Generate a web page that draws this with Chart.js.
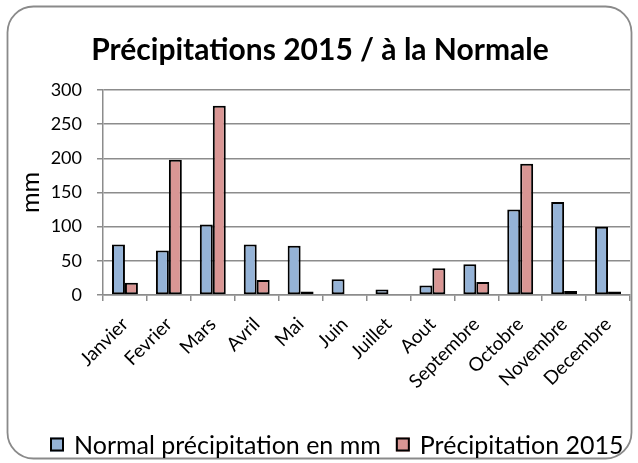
<!DOCTYPE html>
<html>
<head>
<meta charset="utf-8">
<script src="https://cdn.jsdelivr.net/npm/chart.js@4"></script>
<style>
  html, body { margin: 0; padding: 0; background: #ffffff; }
  #wrap { position: relative; width: 638px; height: 463px; }
</style>
</head>
<body>
<div id="wrap"><canvas id="chart" width="638" height="463"></canvas></div>
<script>
// Monthly precipitation: long-term normal vs 2015 (mm)
const months = ['Janvier', 'Fevrier', 'Mars', 'Avril', 'Mai', 'Juin', 'Juillet', 'Aout', 'Septembre', 'Octobre', 'Novembre', 'Decembre'];
const normalMm = [74, 65, 103, 74, 72, 23, 8, 14, 45, 125, 136, 100];
const precip2015 = [18, 198, 277, 22, 5, 1, 0, 39, 19, 192, 6, 5];
const yTicks = [0, 50, 100, 150, 200, 250, 300];

const FONT = 'Lato, "Open Sans", sans-serif';
const GRID = '#8c8c8c';

// Rounded outer frame around the whole chart
const framePlugin = {
  id: 'frame',
  beforeDraw(chart) {
    const ctx = chart.ctx;
    ctx.save();
    ctx.fillStyle = '#ffffff';
    ctx.fillRect(0, 0, chart.width, chart.height);
    ctx.beginPath();
    ctx.roundRect(7.5, 6.5, 624, 452, 26);
    ctx.strokeStyle = '#8a8a8a';
    ctx.lineWidth = 1.8;
    ctx.stroke();
    ctx.restore();
  }
};

// Legend row along the bottom: square swatch + series name for each dataset
const bottomLegend = {
  id: 'bottomLegend',
  afterDraw(chart, args, opts) {
    const ctx = chart.ctx;
    const box = opts.boxSize;
    let x = opts.x;
    const cy = opts.y;
    ctx.save();
    ctx.font = `${opts.fontSize}px ${FONT}`;
    ctx.textBaseline = 'middle';
    ctx.textAlign = 'left';
    chart.data.datasets.forEach(ds => {
      ctx.fillStyle = ds.backgroundColor;
      ctx.fillRect(x, cy - box / 2, box, box);
      ctx.strokeStyle = '#000000';
      ctx.lineWidth = 2;
      ctx.strokeRect(x + 1, cy - box / 2 + 1, box - 2, box - 2);
      x += box + opts.boxGap;
      ctx.fillStyle = '#000000';
      ctx.fillText(ds.label, x, cy + 1);
      x += ctx.measureText(ds.label).width + opts.itemGap;
    });
    ctx.restore();
  }
};

const barStyle = {
  borderColor: '#000000',
  borderWidth: 2,
  borderSkipped: false,
  categoryPercentage: 0.59,
  barPercentage: 1.0
};

new Chart(document.getElementById('chart'), {
  type: 'bar',
  data: {
    labels: months,
    datasets: [
      Object.assign({ label: 'Normal précipitation en mm', data: normalMm, backgroundColor: '#95b3d7' }, barStyle),
      Object.assign({ label: 'Précipitation 2015', data: precip2015, backgroundColor: '#d99694' }, barStyle)
    ]
  },
  options: {
    responsive: false,
    animation: false,
    devicePixelRatio: 1,
    layout: { padding: { top: 0, left: 10, right: 8, bottom: 48 } },
    plugins: {
      title: {
        display: true,
        text: 'Précipitations 2015 / à la Normale',
        color: '#000000',
        font: { family: FONT, size: 30, weight: 'bold' },
        padding: { top: 32, bottom: 22 }
      },
      legend: { display: false },
      bottomLegend: { x: 50, y: 444.5, boxSize: 14, boxGap: 10, itemGap: 15, fontSize: 25 },
      tooltip: { enabled: false }
    },
    scales: {
      x: {
        offset: true,
        grid: {
          display: true,
          drawOnChartArea: false,
          drawTicks: true,
          tickLength: 6,
          color: GRID,
          lineWidth: 1.5
        },
        border: { color: GRID, width: 1.5 },
        ticks: {
          color: '#000000',
          font: { family: FONT, size: 19 },
          minRotation: 45,
          maxRotation: 45,
          padding: 12,
          autoSkip: false
        },
        afterFit(scale) { scale.height = 120; }
      },
      y: {
        min: 0,
        max: 300,
        afterBuildTicks(scale) { scale.ticks = yTicks.map(v => ({ value: v })); },
        grid: {
          color: GRID,
          lineWidth: 1.5,
          tickLength: 6,
          drawTicks: true
        },
        border: { color: GRID, width: 1.5 },
        ticks: {
          color: '#000000',
          font: { family: FONT, size: 18 },
          padding: 15
        },
        title: {
          display: true,
          text: 'mm',
          color: '#000000',
          font: { family: FONT, size: 25, weight: 'normal' },
          padding: { top: 6, bottom: 0 }
        },
        afterFit(scale) { scale.width = 93; }
      }
    }
  },
  plugins: [framePlugin, bottomLegend]
});
</script>
</body>
</html>
